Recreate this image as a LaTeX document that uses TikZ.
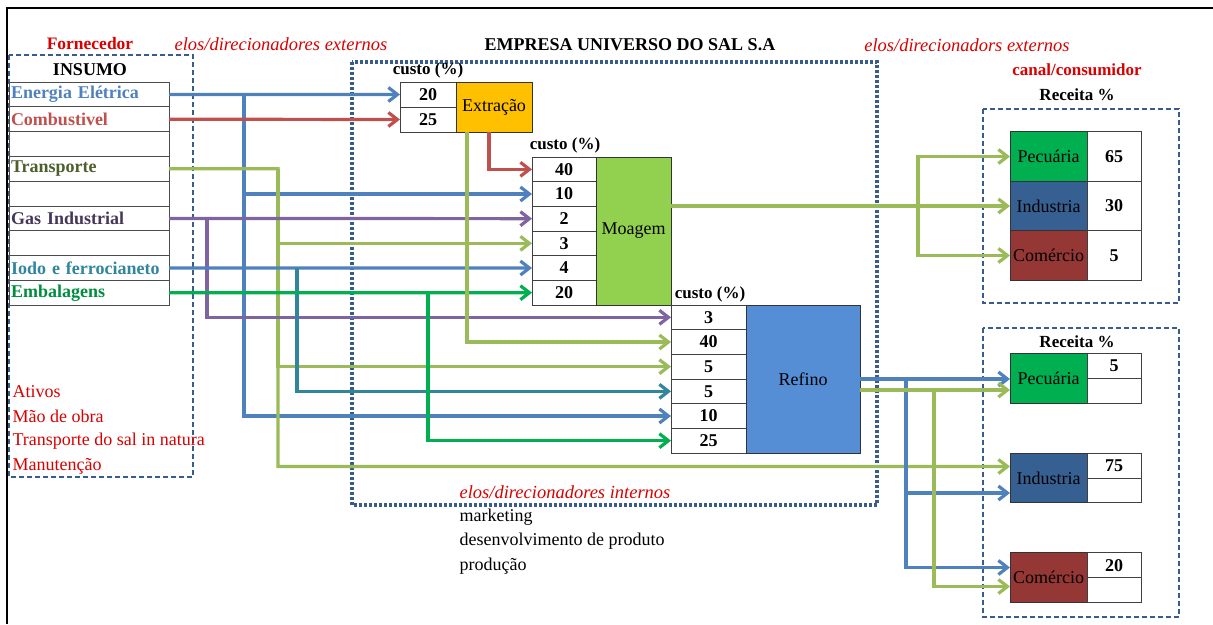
\documentclass[tikz,border=0pt]{standalone}
\usepackage{fontspec}
\setmainfont{Liberation Serif}
\usetikzlibrary{arrows.meta,positioning}

\definecolor{frameblue}{HTML}{385D8A}
\definecolor{elosred}{HTML}{D80000}
\definecolor{elecblue}{HTML}{4F81BD}
\definecolor{combred}{HTML}{C0504D}
\definecolor{olive}{HTML}{9BBB59}
\definecolor{purp}{HTML}{8064A2}
\definecolor{tealc}{HTML}{31859C}
\definecolor{embgreen}{HTML}{00B050}
\definecolor{extrorange}{HTML}{FFC000}
\definecolor{moaggreen}{HTML}{92D050}
\definecolor{refblue}{HTML}{558ED5}
\definecolor{indblue}{HTML}{376092}
\definecolor{combrown}{HTML}{953735}

\begin{document}
\begin{tikzpicture}[x=1pt,y=-1pt,>={Straight Barb[length=9pt,width=14pt]},
    txt/.style={font=\fontsize{18}{20}\selectfont},
    redit/.style={text=elosred,font=\fontsize{18.5}{20}\selectfont\itshape},
    head/.style={font=\fontsize{17}{19}\selectfont\bfseries},
    cell/.style={draw=black!75,line width=0.9pt,minimum width=#1,minimum height=24.67pt,
                 inner sep=0pt,outer sep=0pt,font=\fontsize{18}{20}\selectfont\bfseries},
    insumo/.style={draw=black!70,line width=0.9pt,text width=156pt,minimum height=24.8pt,
                 inner xsep=2pt,inner ysep=0pt,outer sep=0pt,align=left,
                 font=\fontsize{18}{20}\selectfont\bfseries},
    proc/.style={draw=black!80,line width=0.9pt,minimum width=#1,minimum height=148pt,
                 inner sep=0pt,outer sep=0pt,font=\fontsize{18}{20}\selectfont},
    canal/.style={draw=black!80,line width=0.9pt,minimum width=77pt,minimum height=49.5pt,
                 inner sep=0pt,outer sep=0pt,font=\fontsize{18}{20}\selectfont},
    link/.style={->,line width=3.2pt},
    frame/.style={draw=frameblue,line width=1.6pt,dash pattern=on 5pt off 3pt},
    dotframe/.style={draw=frameblue,line width=3.8pt,dash pattern=on 3pt off 2pt}]

  \useasboundingbox (0,0) rectangle (1213,624);
  \draw[line width=1.3pt] (7,624) -- (7,8) -- (1213,8);

  % caixas tracejadas
  \draw[frame] (9,55) rectangle (193,477);
  \draw[dotframe] (352,62) rectangle (877,505);
  \draw[frame] (983,109) rectangle (1179,303);
  \draw[frame] (983,328) rectangle (1179,617);

  % titulos
  \node[head,text=elosred,font=\fontsize{17.5}{20}\selectfont\bfseries] (forn) at (90,44) {Fornecedor};
  \node[redit] (elosext1) at (281,44) {elos/direcionadores externos};
  \node[txt,font=\fontsize{18}{20}\selectfont\bfseries] (empresa) at (630,45) {EMPRESA UNIVERSO DO SAL S.A};
  \node[redit] (elosext2) at (967,45) {elos/direcionadors externos};
  \node[head,text=elosred] (canal) at (1077,70) {canal/consumidor};
  \node[head] (rec1) at (1077,95) {Receita \%};
  \node[head] (rec2) at (1077,342) {Receita \%};
  \node[txt,font=\fontsize{18}{20}\selectfont\bfseries] (ins) at (90,70) {INSUMO};

  % insumos
  \node[insumo,text=elecblue] (energia) at (89,94.4) {Energia Elétrica};
  \node[insumo,text=combred] (comb) [below=0pt of energia] {Combustivel};
  \node[insumo] (vazio1) [below=0pt of comb] {};
  \node[insumo,text=olive!50!black] (transp) [below=0pt of vazio1] {Transporte};
  \node[insumo] (vazio2) [below=0pt of transp] {};
  \node[insumo,text=purp!55!black] (gas) [below=0pt of vazio2] {Gas Industrial};
  \node[insumo] (vazio3) [below=0pt of gas] {};
  \node[insumo,text=tealc] (iodo) [below=0pt of vazio3] {Iodo e ferrocianeto};
  \node[insumo,text=embgreen!80!black] (emb) [below=0pt of iodo] {Embalagens};

  \node[txt,text=elosred,anchor=west] (ativos) at (9,392) {Ativos};
  \node[txt,text=elosred,anchor=west] (mao) at (9,416) {Mão de obra};
  \node[txt,text=elosred,anchor=west] (tsal) at (9,441) {Transporte do sal in natura};
  \node[txt,text=elosred,anchor=west] (manut) at (9,466) {Manutenção};

  % extracao
  \node[head] (cext) at (428,70) {custo (\%)};
  \node[cell=56pt,minimum height=25pt] (e20) at (428,94.5) {20};
  \node[cell=56pt,minimum height=25pt] (e25) [below=0pt of e20] {25};
  \node[proc=76pt,minimum height=50pt,fill=extrorange] (extr) at (494,107) {Extração};

  % moagem
  \node[head] (cmoag) at (565,145) {custo (\%)};
  \node[cell=64pt] (m40) at (564,169.33) {40};
  \node[cell=64pt] (m10) [below=0pt of m40] {10};
  \node[cell=64pt] (m2) [below=0pt of m10] {2};
  \node[cell=64pt] (m3) [below=0pt of m2] {3};
  \node[cell=64pt] (m4) [below=0pt of m3] {4};
  \node[cell=64pt] (m20) [below=0pt of m4] {20};
  \node[proc=75pt,fill=moaggreen] (moag) at (633.5,231) {Moagem};

  % refino
  \node[head] (cref) at (710,294) {custo (\%)};
  \node[cell=75pt] (r3) at (708.5,317.33) {3};
  \node[cell=75pt] (r40) [below=0pt of r3] {40};
  \node[cell=75pt] (r5a) [below=0pt of r40] {5};
  \node[cell=75pt] (r5b) [below=0pt of r5a] {5};
  \node[cell=75pt] (r10) [below=0pt of r5b] {10};
  \node[cell=75pt] (r25) [below=0pt of r10] {25};
  \node[proc=114pt,fill=refblue] (ref) at (803,379) {Refino};

  % canais (moagem)
  \node[canal,fill=embgreen] (pec1) at (1048.5,156.5) {Pecuária};
  \node[canal,fill=indblue] (ind1) [below=0pt of pec1] {Industria};
  \node[canal,fill=combrown] (com1) [below=0pt of ind1] {Comércio};
  \node[cell=54pt,minimum height=49.5pt] (v65) [right=0pt of pec1] {65};
  \node[cell=54pt,minimum height=49.5pt] (v30) [right=0pt of ind1] {30};
  \node[cell=54pt,minimum height=49.5pt] (v5) [right=0pt of com1] {5};

  % canais (refino)
  \node[canal,fill=embgreen] (pec2) at (1048.5,378.5) {Pecuária};
  \node[canal,fill=indblue] (ind2) at (1048.5,478) {Industria};
  \node[canal,fill=combrown] (com2) at (1048.5,577.5) {Comércio};
  \node[cell=54pt,minimum height=24.75pt,anchor=north west] (w5) at (pec2.north east) {5};
  \node[cell=54pt,minimum height=24.75pt] (w5b) [below=0pt of w5] {};
  \node[cell=54pt,minimum height=24.75pt,anchor=north west] (w75) at (ind2.north east) {75};
  \node[cell=54pt,minimum height=24.75pt] (w75b) [below=0pt of w75] {};
  \node[cell=54pt,minimum height=24.75pt,anchor=north west] (w20) at (com2.north east) {20};
  \node[cell=54pt,minimum height=24.75pt] (w20b) [below=0pt of w20] {};

  % elos internos
  \node[redit] (elosint) at (565,492) {elos/direcionadores internos};
  \node[txt,anchor=west] (mkt) at (456,517) {marketing};
  \node[txt,anchor=west] (desenv) at (456,541) {desenvolvimento de produto};
  \node[txt,anchor=west] (prod) at (456,566) {produção};

  % pontos de derivacao
  \coordinate (ebr) at (244,94.4);
  \coordinate (tbr) at (278,168.8);
  \coordinate (tlow) at (278,466.5);
  \coordinate (gbr) at (207,218.4);
  \coordinate (ibr) at (297,268);
  \coordinate (embr) at (428,292.8);
  \coordinate (mbr) at (918,206);
  \coordinate (rbr) at (906,379);
  \coordinate (gbr2) at (934,390);

  % ligacoes
  \draw[link,elecblue] (energia.east) -- (e20.west);
  \draw[link,elecblue] (ebr) |- (m10.west);
  \draw[link,elecblue] (ebr) |- (r10.west);
  \draw[link,combred] (comb.east) -- (e25.west);
  \draw[link,combred] ([xshift=-5pt]extr.south) |- (m40.west);
  \draw[link,olive] (transp.east) -- (tbr) -- (tlow) -- (tlow -| ind2.west);
  \draw[link,olive] (tbr) |- (m3.west);
  \draw[link,olive] (tbr) |- (r5a.west);
  \draw[link,purp] (gas.east) -- (m2.west);
  \draw[link,purp] (gbr) |- (r3.west);
  \draw[link,elecblue] (iodo.east) -- (m4.west);
  \draw[link,tealc] (ibr) |- (r5b.west);
  \draw[link,embgreen] (emb.east) -- (m20.west);
  \draw[link,embgreen] (embr) |- (r25.west);
  \draw[link,olive] ([xshift=-27pt]extr.south) |- (r40.west);
  \draw[link,olive] (moag.east |- mbr) -- (ind1.west);
  \draw[link,olive] (mbr) |- (pec1.west);
  \draw[link,olive] (mbr) |- (com1.west);
  \draw[link,elecblue] (ref.east) -- (ref.east -| pec2.west);
  \draw[link,elecblue] (rbr) |- ([yshift=-15pt]ind2.west);
  \draw[link,elecblue] (rbr) |- ([yshift=10pt]com2.west);
  \draw[link,olive] (ref.east |- gbr2) -- (gbr2 -| pec2.west);
  \draw[link,olive] (gbr2) |- ([yshift=-9pt]com2.west);
\end{tikzpicture}
\end{document}
